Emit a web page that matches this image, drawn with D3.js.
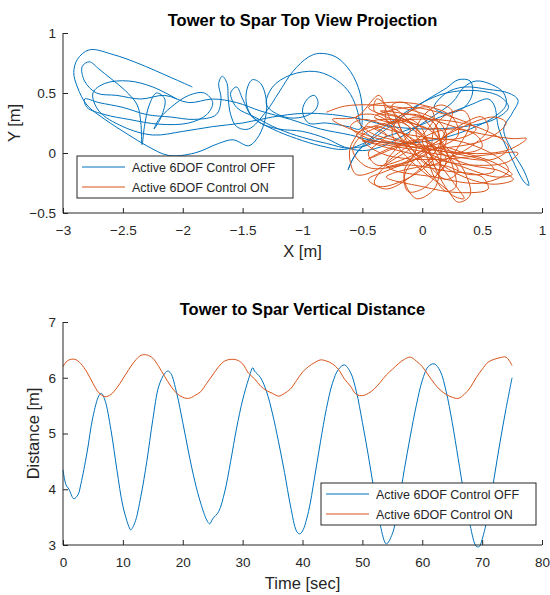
<!DOCTYPE html>
<html lang="en">
<head>
<meta charset="utf-8">
<title>Tower to Spar</title>
<script src="https://cdn.jsdelivr.net/npm/d3@7"></script>
<style>
  body { margin: 0; background: #fff; }
  text { font-family: "Liberation Sans", Arial, Helvetica, sans-serif; fill: #262626; }
</style>
</head>
<body>
<script>
const seriesNames = ["Active 6DOF Control OFF", "Active 6DOF Control ON"];
const colors = ["#0072BD", "#D95319"];

// top view projection, [x, y] in metres
const offXY = [
  [-1.92,0.55],[-2.1,0.63],[-2.38,0.75],[-2.58,0.82],[-2.78,0.86],[-2.88,0.78],[-2.91,0.67],[-2.88,0.55],[-2.8,0.4],
  [-2.65,0.28],[-2.45,0.15],[-2.3,0.06],[-2.12,-0.02],[-1.9,0.0],[-1.7,0.08],[-1.58,0.11],[-1.45,0.06],[-1.38,0.12],
  [-1.32,0.25],[-1.3,0.42],[-1.35,0.58],[-1.42,0.61],[-1.47,0.5],[-1.45,0.35],[-1.35,0.25],[-1.2,0.2],[-1.0,0.18],
  [-0.8,0.12],[-0.65,0.05],[-0.5,0.02],
  [-0.35,0.05],[-0.15,0.15],[0.05,0.28],[0.25,0.42],[0.35,0.55],[0.45,0.6],[0.58,0.57],[0.68,0.5],[0.7,0.4],
  [0.6,0.3],[0.4,0.2],[0.15,0.12],[-0.15,0.08],[-0.4,0.1],[-0.6,0.15],[-0.85,0.2],[-1.1,0.28],
  [-1.35,0.35],[-1.55,0.42],[-1.75,0.45],[-1.95,0.42],[-2.15,0.48],[-2.35,0.45],[-2.55,0.48],[-2.72,0.5],[-2.82,0.6],
  [-2.84,0.72],[-2.78,0.76],[-2.7,0.7],[-2.6,0.62],[-2.48,0.52],[-2.38,0.4],[-2.35,0.25],[-2.34,0.07],[-2.32,0.22],
  [-2.28,0.4],[-2.22,0.5],[-2.15,0.45],[-2.18,0.3],[-2.24,0.2],[-2.2,0.28],
  [-2.1,0.38],[-1.95,0.48],[-1.82,0.5],[-1.75,0.42],[-1.8,0.32],[-1.95,0.25],[-2.2,0.24],[-2.45,0.28],[-2.65,0.32],
  [-2.8,0.38],[-2.82,0.45],[-2.7,0.42],[-2.5,0.38],[-2.3,0.32],[-2.1,0.3],[-1.9,0.28],[-1.72,0.32],[-1.68,0.45],
  [-1.7,0.58],[-1.67,0.64],[-1.63,0.58],[-1.62,0.45],[-1.6,0.32],[-1.55,0.22],[-1.45,0.2],
  [-1.3,0.35],[-1.2,0.5],[-1.08,0.68],[-0.95,0.8],[-0.86,0.83],[-0.72,0.8],[-0.6,0.68],[-0.52,0.5],[-0.5,0.3],
  [-0.52,0.2],[-0.62,0.22],[-0.8,0.25],[-0.95,0.25],
  [-1.0,0.35],[-0.96,0.45],[-0.9,0.48],[-0.87,0.42],[-0.9,0.35],[-1.0,0.3],[-1.15,0.3],[-1.3,0.4],
  [-1.25,0.55],[-1.1,0.65],[-0.9,0.68],[-0.75,0.63],[-0.62,0.52],[-0.55,0.38],[-0.5,0.2],[-0.4,0.1],
  [-0.6,0.04],[-0.8,0.08],[-1.0,0.13],[-1.2,0.2],[-1.4,0.3],[-1.55,0.38],[-1.6,0.5],[-1.55,0.55],[-1.5,0.45],
  [-1.42,0.3],[-1.25,0.2],[-1.05,0.12],[-0.85,0.06],[-0.65,0.03],
  [-0.45,0.1],[-0.3,0.2],[-0.1,0.35],[0.05,0.45],[0.2,0.54],[0.3,0.61],[0.4,0.6],[0.42,0.5],[0.35,0.38],
  [0.2,0.33],[0.1,0.38],[0.2,0.5],[0.35,0.55],[0.55,0.53],[0.72,0.5],[0.8,0.44],[0.75,0.33],[0.68,0.2],
  [0.75,0.02],[0.85,-0.15],[0.89,-0.27],[0.85,-0.24],[0.75,-0.05],[0.64,0.2],[0.6,0.4],[0.55,0.45],[0.4,0.4],
  [0.15,0.3],[-0.1,0.2],[-0.35,0.12],[-0.5,0.05],[-0.58,-0.05],[-0.62,-0.14],
  [-0.55,0.0],[-0.4,0.15],[-0.2,0.3],[0.0,0.42],[0.2,0.5],[0.45,0.52],[0.65,0.47],[0.72,0.38],[0.6,0.28],
  [0.35,0.22],[0.05,0.2],[-0.25,0.22],[-0.5,0.28],[-0.75,0.32],[-1.0,0.33],[-1.25,0.3],[-1.5,0.25],[-1.75,0.22],
  [-2.0,0.18],[-2.25,0.15],[-2.5,0.22],[-2.7,0.35],[-2.75,0.5],[-2.65,0.58],[-2.45,0.6],[-2.25,0.55],[-2.05,0.45]
];

const onXY = [
  [-0.8,0.34],[-0.65,0.39],[-0.4,0.4],[-0.1,0.36],[0.15,0.25],[0.2,0.12],[0.0,0.05],[-0.3,0.1],[-0.6,0.2],[-0.75,0.28],
  [-0.55,0.3],[-0.36,0.48],[-0.3,0.35],[-0.2,0.15],[-0.05,-0.05],[0.1,-0.2],[0.15,-0.1],[0.05,0.1],[-0.15,0.28],
  [-0.35,0.35],[0.0,0.3],[0.4,0.18],[0.75,0.12],[0.87,0.12],[0.7,0.02],[0.3,0.0],[0.0,0.05],[-0.3,0.15],[-0.45,0.22],
  [-0.5,0.2],[-0.6,0.05],[-0.6,-0.08],[-0.55,-0.18],[-0.4,-0.15],[-0.2,0.0],[0.0,0.15],[0.1,0.3],[0.05,0.38],[-0.1,0.35],[-0.25,0.2],
  [-0.2,0.05],[0.0,-0.15],[0.2,-0.3],[0.3,-0.41],[0.4,-0.35],[0.35,-0.15],[0.2,0.05],[0.05,0.2],[-0.1,0.25],
  [-0.25,0.28],[-0.45,0.25],[-0.5,0.12],[-0.35,0.0],[-0.1,-0.05],[0.2,-0.05],[0.5,-0.02],[0.8,0.0],[0.7,-0.08],[0.4,-0.1],[0.1,-0.05],
  [-0.55,0.15],[-0.3,0.25],[0.1,0.28],[0.5,0.2],[0.72,0.05],[0.6,-0.05],[0.2,-0.02],[-0.2,0.05],[-0.5,0.1],
  [-0.1,0.05],[-0.3,-0.1],[-0.4,-0.25],[-0.3,-0.3],[-0.1,-0.2],[0.1,0.0],[0.2,0.2],[0.25,0.35],[0.15,0.4],[0.0,0.3],
  [-0.05,0.15],[0.1,-0.05],[0.35,-0.2],[0.6,-0.26],[0.76,-0.22],[0.65,-0.15],[0.4,-0.1],[0.15,0.0],[0.0,0.1],
  [-0.45,-0.05],[-0.1,0.1],[0.3,0.1],[0.65,-0.05],[0.72,-0.15],[0.5,-0.25],[0.1,-0.2],[-0.3,-0.1],
  [-0.1,0.2],[-0.3,0.3],[-0.45,0.38],[-0.3,0.42],[0.0,0.4],[0.25,0.3],[0.3,0.15],[0.15,0.05],
  [0.0,0.0],[-0.15,-0.2],[-0.05,-0.38],[0.1,-0.3],[0.15,-0.1],[0.15,0.1],[0.1,0.25],[-0.05,0.3],[-0.2,0.25],
  [-0.4,0.3],[-0.1,0.38],[0.25,0.3],[0.45,0.2],[0.3,0.12],[-0.1,0.15],[-0.4,0.22],
  [-0.3,0.15],[-0.45,0.0],[-0.38,-0.1],[-0.15,-0.05],[0.1,0.08],[0.35,0.25],[0.5,0.3],[0.55,0.2],[0.4,0.05],[0.2,-0.05],
  [0.05,-0.1],[-0.1,0.05],[-0.2,0.25],[-0.25,0.4],[-0.15,0.42],[0.0,0.3],[0.15,0.1],[0.25,-0.1],[0.28,-0.28],[0.2,-0.32],[0.1,-0.2],
  [0.0,0.05],[-0.2,0.18],[-0.5,0.28],[-0.6,0.22],[-0.45,0.12],[-0.1,0.05],[0.25,0.0],[0.55,-0.08],[0.6,-0.15],[0.4,-0.18],[0.15,-0.1],
  [-0.3,-0.2],[0.0,-0.28],[0.3,-0.33],[0.55,-0.3],[0.5,-0.2],[0.2,-0.15],[-0.1,-0.1],[-0.3,-0.12],
  [0.05,0.0],[0.1,0.2],[0.2,0.32],[0.35,0.35],[0.4,0.25],[0.3,0.05],[0.15,-0.15],[0.0,-0.3],[-0.12,-0.32],[-0.15,-0.15],[-0.05,0.05],
  [-0.2,0.2],[-0.4,0.32],[-0.55,0.3],[-0.45,0.18],[-0.2,0.1],[0.1,0.05],[0.35,0.0],[0.5,0.05],[0.45,0.15],[0.25,0.2],[0.05,0.15],
  [0.0,0.1],[0.15,-0.1],[0.3,-0.3],[0.35,-0.38],[0.25,-0.35],[0.12,-0.15],[0.05,0.05],[0.0,0.2],[-0.1,0.28],
  [-0.25,0.25],[-0.5,0.15],[-0.58,0.02],[-0.45,-0.12],[-0.2,-0.1],[0.05,0.05],[0.3,0.2],[0.6,0.3],[0.7,0.25],[0.55,0.12],[0.25,0.05],
  [0.1,0.05],[-0.05,0.2],[-0.2,0.35],[-0.3,0.38],[-0.3,0.28],[-0.15,0.1],[0.05,-0.1],[0.2,-0.22],[0.3,-0.15],[0.2,0.0],
  [0.15,0.1],[0.1,0.25],[-0.05,0.32],[-0.2,0.3],[-0.15,0.15],[0.05,0.0],[0.35,-0.12],[0.62,-0.2],[0.75,-0.18],[0.6,-0.08],[0.35,0.0],
  [0.15,0.05],[-0.05,-0.05],[-0.3,-0.15],[-0.45,-0.22],[-0.35,-0.28],[-0.1,-0.2],[0.1,-0.05],[0.2,0.1],[0.15,0.2],
  [0.05,0.2],[-0.2,0.3],[-0.4,0.35],[-0.38,0.45],[-0.3,0.4],[-0.15,0.25],[0.05,0.1],[0.2,-0.05],[0.15,-0.15],[0.05,-0.05]
];

// vertical distance vs time
const offTime = [0,0.5,1,1.8,2.5,3,4,5,6,6.4,7,8,9,10,11,11.3,12,13,14,15,16,17,17.5,18,19,20,21,22,23,24,24.5,25,26,27,28,29,30,31,31.7,32,33,34,35,36,37,38,39,39.5,40,41,42,43,44,45,46,47,48,49,50,51,52,53,54,55,56,57,58,59,60,61,62,63,64,65,66,67,68,69,69.5,70,71,72,73,74,75];
const offDist = [4.35,4.08,4.0,3.83,3.9,4.1,4.65,5.3,5.68,5.72,5.6,5.07,4.35,3.7,3.33,3.27,3.4,3.87,4.5,5.25,5.85,6.08,6.12,6.08,5.72,5.2,4.65,4.15,3.75,3.45,3.38,3.47,3.6,3.95,4.5,5.1,5.6,5.98,6.18,6.12,6.0,5.75,5.35,4.85,4.3,3.7,3.25,3.2,3.25,3.6,4.2,4.85,5.45,5.9,6.15,6.23,6.1,5.75,5.2,4.6,3.95,3.35,3.02,3.2,3.7,4.35,4.95,5.5,5.95,6.2,6.25,6.12,5.75,5.2,4.55,3.9,3.35,2.98,2.97,3.1,3.55,4.2,4.85,5.45,6.0];
const onTime = [0,0.5,1,2,3,4,5,6,7,8,9,10,11,12,13,14,15,16,17,18,19,20,21,22,23,24,25,26,27,28,29,30,31,32,33,34,35,36,37,38,39,40,41,42,43,44,45,46,47,48,49,50,51,52,53,54,55,56,57,58,59,60,61,62,63,64,65,66,67,68,69,70,71,72,73,74,75];
const onDist = [6.2,6.28,6.32,6.33,6.25,6.1,5.9,5.73,5.66,5.7,5.82,5.98,6.15,6.3,6.4,6.41,6.35,6.2,6.02,5.85,5.72,5.65,5.63,5.68,5.75,5.9,6.05,6.2,6.3,6.33,6.32,6.25,6.08,5.98,5.85,5.77,5.72,5.67,5.72,5.8,5.95,6.1,6.2,6.27,6.32,6.3,6.25,6.15,5.98,5.85,5.7,5.68,5.72,5.8,5.92,6.05,6.15,6.25,6.33,6.37,6.3,6.2,6.05,5.9,5.78,5.7,5.65,5.63,5.7,5.82,6.0,6.15,6.28,6.33,6.36,6.37,6.22];

const topXTicks = [-3,-2.5,-2,-1.5,-1,-0.5,0,0.5,1];
const topYTicks = [-0.5,0,0.5,1];
const botXTicks = [0,10,20,30,40,50,60,70,80];
const botYTicks = [3,4,5,6,7];

const W = 550, H = 595;
const svg = d3.select("body").append("svg").attr("width", W).attr("height", H);
const axisColor = "#262626";

function drawPanel(o) {
  const x = d3.scaleLinear().domain(o.xDomain).range([o.left, o.right]);
  const y = d3.scaleLinear().domain(o.yDomain).range([o.bottom, o.top]);
  const g = svg.append("g");

  // data lines
  o.series.forEach((pts, i) => {
    g.append("path")
      .datum(pts)
      .attr("fill", "none")
      .attr("stroke", colors[i])
      .attr("stroke-width", 1)
      .attr("d", d3.line().x(d => x(d[0])).y(d => y(d[1])).curve(d3.curveCatmullRom.alpha(0.5)));
  });

  // axes, MATLAB style: ticks inward
  const xAxis = g.append("g").attr("transform", `translate(0,${o.bottom})`)
    .call(d3.axisBottom(x).tickValues(o.xTicks).tickSize(-5).tickPadding(12).tickFormat(d3.format("")));
  const yAxis = g.append("g").attr("transform", `translate(${o.left},0)`)
    .call(d3.axisLeft(y).tickValues(o.yTicks).tickSize(-5).tickPadding(7).tickFormat(d3.format("")));
  [xAxis, yAxis].forEach(a => {
    a.select(".domain").attr("stroke", axisColor);
    a.selectAll(".tick line").attr("stroke", axisColor);
    a.selectAll(".tick text").attr("fill", axisColor).style("font-size", "13.5px")
      .style("font-family", '"Liberation Sans", Arial, sans-serif');
  });
  xAxis.select(".domain").attr("d", `M${o.left},0H${o.right}`);
  yAxis.select(".domain").attr("d", `M0,${o.bottom}V${o.top}`);

  // titles
  g.append("text").attr("x", (o.left + o.right) / 2).attr("y", o.top - 7)
    .attr("text-anchor", "middle").style("font-size", "16.5px").style("font-weight", "bold")
    .style("fill", "#000").text(o.title);
  g.append("text").attr("x", (o.left + o.right) / 2).attr("y", o.bottom + 44)
    .attr("text-anchor", "middle").style("font-size", "16.5px").text(o.xLabel);
  g.append("text").attr("transform", `translate(${o.yLabelX},${(o.top + o.bottom) / 2}) rotate(-90)`)
    .attr("text-anchor", "middle").style("font-size", "16.5px").text(o.yLabel);

  // legend
  const lg = g.append("g").attr("transform", `translate(${o.legend[0]},${o.legend[1]})`);
  lg.append("rect").attr("width", o.legend[2]).attr("height", 42)
    .attr("fill", "#fff").attr("stroke", axisColor).attr("stroke-width", 1);
  seriesNames.forEach((name, i) => {
    const ry = 11 + i * 20;
    lg.append("line").attr("x1", 5).attr("x2", 48).attr("y1", ry).attr("y2", ry)
      .attr("stroke", colors[i]).attr("stroke-width", 1);
    lg.append("text").attr("x", 55).attr("y", ry + 4.5).style("font-size", "12.5px").text(name);
  });
}

drawPanel({
  left: 63, right: 542, top: 33, bottom: 213,
  xDomain: [-3, 1], yDomain: [-0.5, 1],
  xTicks: topXTicks, yTicks: topYTicks,
  series: [offXY, onXY],
  title: "Tower to Spar Top View Projection",
  xLabel: "X [m]", yLabel: "Y [m]", yLabelX: 20,
  legend: [77, 156, 216]
});

drawPanel({
  left: 63, right: 542, top: 322, bottom: 545,
  xDomain: [0, 80], yDomain: [3, 7],
  xTicks: botXTicks, yTicks: botYTicks,
  series: [d3.zip(offTime, offDist), d3.zip(onTime, onDist)],
  title: "Tower to Spar Vertical Distance",
  xLabel: "Time [sec]", yLabel: "Distance [m]", yLabelX: 39,
  legend: [321, 483, 215]
});
</script>
</body>
</html>
